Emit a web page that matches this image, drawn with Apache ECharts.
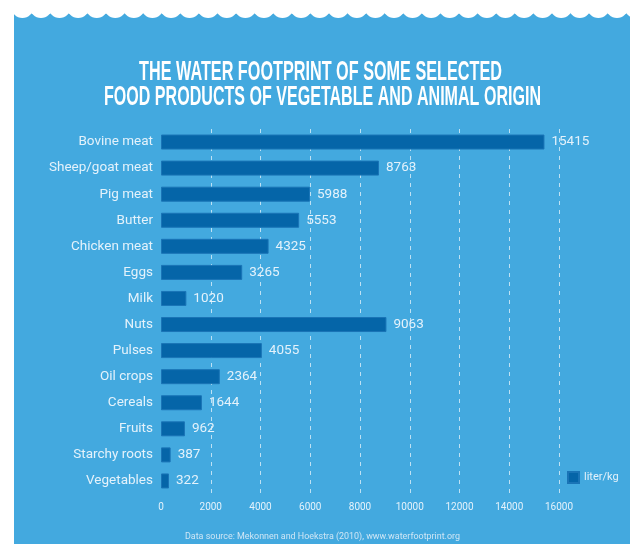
<!DOCTYPE html>
<html>
<head>
<meta charset="utf-8">
<script src="https://cdn.jsdelivr.net/npm/echarts@6/dist/echarts.min.js"></script>
<style>
html,body{margin:0;padding:0;background:#ffffff;}
#chart{width:637px;height:544px;}
</style>
</head>
<body>
<div id="chart"></div>
<script>
// ---- data ----
const titleLines = ['THE WATER FOOTPRINT OF SOME SELECTED', 'FOOD PRODUCTS OF VEGETABLE AND ANIMAL ORIGIN'];
const categories = ['Bovine meat','Sheep/goat meat','Pig meat','Butter','Chicken meat','Eggs','Milk','Nuts','Pulses','Oil crops','Cereals','Fruits','Starchy roots','Vegetables'];
const values = [15415, 8763, 5988, 5553, 4325, 3265, 1020, 9063, 4055, 2364, 1644, 962, 387, 322];
const seriesName = 'liter/kg';
const axisMax = 16000;
const axisInterval = 2000;
const sourceText = 'Data source: Mekonnen and Hoekstra (2010), www.waterfootprint.org';

// ---- styles ----
const BG = '#43a9df';
const BAR = '#0565a8';
const TXT = '#e4f2fb';

const chart = echarts.init(document.getElementById('chart'), null, {renderer: 'canvas'});

const cvs = document.createElement('canvas').getContext('2d');
function fitScale(text, font, target) {
  cvs.font = font;
  const w = cvs.measureText(text).width;
  return target / w;
}
const titleFont = "bold 28px 'Liberation Sans', sans-serif";
const sourceFont = "9px Roboto, sans-serif";

const graphics = [];
graphics.push({type: 'rect', z: -10, silent: true, shape: {x: 14, y: 12, width: 616, height: 532}, style: {fill: BG}});
for (let k = -1; k <= 33; k++) {
  const cx = 22.4 + 18.58 * k;
  if (cx < 0 || cx > 640) continue;
  graphics.push({type: 'circle', z: -9, silent: true, shape: {cx: cx, cy: 6.9, r: 11.1}, style: {fill: '#ffffff'}});
}
graphics.push({type: 'rect', z: -8, silent: true, shape: {x: 0, y: 0, width: 14, height: 544}, style: {fill: '#ffffff'}});
graphics.push({type: 'rect', z: -8, silent: true, shape: {x: 630, y: 0, width: 7, height: 544}, style: {fill: '#ffffff'}});

const titleCenters = [[320.5, 72], [322.5, 97]];
const titleWidths = [363, 437];
titleLines.forEach((t, i) => {
  graphics.push({
    type: 'text', silent: true,
    x: titleCenters[i][0], y: titleCenters[i][1],
    scaleX: fitScale(t, titleFont, titleWidths[i]),
    style: {text: t, font: titleFont, fill: '#ffffff', align: 'center', verticalAlign: 'middle'}
  });
});
graphics.push({
  type: 'text', silent: true, x: 322.5, y: 537,
  scaleX: fitScale(sourceText, sourceFont, 275),
  style: {text: sourceText, font: sourceFont, fill: '#cfe6f5', align: 'center', verticalAlign: 'middle'}
});

chart.setOption({
  backgroundColor: 'transparent',
  animation: false,
  graphic: graphics,
  legend: {
    data: [seriesName],
    left: 567, top: 471,
    itemWidth: 11, itemHeight: 11, itemGap: 6,
    icon: 'rect',
    textStyle: {color: TXT, fontSize: 11, fontFamily: 'Roboto'},
    padding: 0
  },
  grid: {left: 161, right: 78, top: 129, height: 365, containLabel: false},
  xAxis: {
    type: 'value', min: 0, max: axisMax, interval: axisInterval,
    axisLine: {show: false}, axisTick: {show: false},
    axisLabel: {color: TXT, fontSize: 10, fontFamily: 'Roboto', margin: 8, formatter: v => String(v)},
    splitLine: {show: true, showMinLine: false, lineStyle: {color: 'rgba(255,255,255,0.65)', type: [4, 5], width: 1}}
  },
  yAxis: {
    type: 'category', data: categories, inverse: true,
    axisLine: {show: false}, axisTick: {show: false},
    axisLabel: {color: TXT, fontSize: 13.5, fontFamily: 'Roboto', margin: 8}
  },
  series: [{
    name: seriesName, type: 'bar', data: values, barWidth: 15,
    itemStyle: {color: BAR, borderColor: '#1a74b6', borderWidth: 1},
    label: {show: true, position: 'right', distance: 7, color: TXT, fontSize: 13.5, fontFamily: 'Roboto'}
  }]
});
</script>
</body>
</html>
